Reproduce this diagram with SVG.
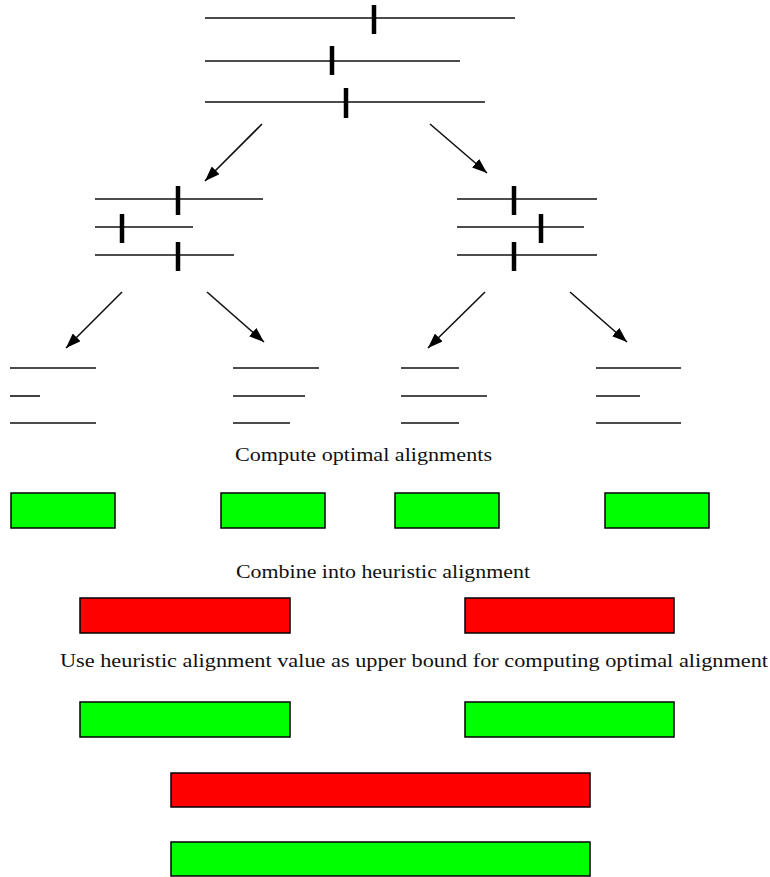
<svg xmlns="http://www.w3.org/2000/svg" width="770" height="877" viewBox="0 0 770 877">
<style>
.seq{stroke:#111;stroke-width:1.6;fill:none}
.tick{stroke:#000;stroke-width:4.5;fill:none}
.arr{stroke:#111;stroke-width:1.6;fill:none;marker-end:url(#ah)}
.g{fill:#00ff00;stroke:#000;stroke-width:1.5}
.r{fill:#ff0000;stroke:#000;stroke-width:1.5}
.lbl{font-family:"Liberation Serif","DejaVu Serif",serif;font-size:18px;fill:#111}
</style>
<defs>
<marker id="ah" viewBox="0 0 15 11" refX="15" refY="5.5" markerWidth="15" markerHeight="11" markerUnits="userSpaceOnUse" orient="auto">
<path d="M0,0 L15,5.5 L0,11 Z" fill="#000"/>
</marker>
</defs>
<rect width="770" height="877" fill="#fff"/>

<g id="root">
<line class="seq" x1="205" y1="18" x2="515" y2="18"/>
<line class="tick" x1="374" y1="5" x2="374" y2="34"/>
<line class="seq" x1="205" y1="61" x2="460" y2="61"/>
<line class="tick" x1="332" y1="46" x2="332" y2="75"/>
<line class="seq" x1="205" y1="102" x2="485" y2="102"/>
<line class="tick" x1="346" y1="88" x2="346" y2="118"/>
</g>

<g id="midLeft">
<line class="seq" x1="95" y1="199" x2="263" y2="199"/>
<line class="tick" x1="178" y1="186" x2="178" y2="215"/>
<line class="seq" x1="95" y1="227" x2="193" y2="227"/>
<line class="tick" x1="122" y1="214" x2="122" y2="243"/>
<line class="seq" x1="95" y1="255" x2="234" y2="255"/>
<line class="tick" x1="178" y1="242" x2="178" y2="271"/>
</g>

<g id="midRight">
<line class="seq" x1="457" y1="199" x2="597" y2="199"/>
<line class="tick" x1="514" y1="186" x2="514" y2="215"/>
<line class="seq" x1="457" y1="227" x2="584" y2="227"/>
<line class="tick" x1="541" y1="214" x2="541" y2="243"/>
<line class="seq" x1="457" y1="255" x2="597" y2="255"/>
<line class="tick" x1="514" y1="242" x2="514" y2="271"/>
</g>

<g id="leaf1">
<line class="seq" x1="10" y1="368" x2="96" y2="368"/>
<line class="seq" x1="10" y1="396" x2="40" y2="396"/>
<line class="seq" x1="10" y1="423" x2="96" y2="423"/>
</g>
<g id="leaf2">
<line class="seq" x1="233" y1="368" x2="319" y2="368"/>
<line class="seq" x1="233" y1="396" x2="305" y2="396"/>
<line class="seq" x1="233" y1="423" x2="290" y2="423"/>
</g>
<g id="leaf3">
<line class="seq" x1="401" y1="368" x2="459" y2="368"/>
<line class="seq" x1="401" y1="396" x2="487" y2="396"/>
<line class="seq" x1="401" y1="423" x2="459" y2="423"/>
</g>
<g id="leaf4">
<line class="seq" x1="596" y1="368" x2="681" y2="368"/>
<line class="seq" x1="596" y1="396" x2="640" y2="396"/>
<line class="seq" x1="596" y1="423" x2="681" y2="423"/>
</g>

<g id="connectors">
<line class="arr" x1="262" y1="124" x2="205" y2="181"/>
<line class="arr" x1="430" y1="124" x2="487" y2="173"/>
<line class="arr" x1="122" y1="292" x2="66" y2="348"/>
<line class="arr" x1="207" y1="292" x2="264" y2="342"/>
<line class="arr" x1="485" y1="292" x2="428" y2="348"/>
<line class="arr" x1="570" y1="292" x2="627" y2="342"/>
</g>

<g id="label1"><text class="lbl" x="235" y="461" textLength="257" lengthAdjust="spacingAndGlyphs">Compute optimal alignments</text></g>

<g id="opt1"><rect class="g" x="11" y="493" width="104" height="35"/></g>
<g id="opt2"><rect class="g" x="221" y="493" width="104" height="35"/></g>
<g id="opt3"><rect class="g" x="395" y="493" width="104" height="35"/></g>
<g id="opt4"><rect class="g" x="605" y="493" width="104" height="35"/></g>

<g id="label2"><text class="lbl" x="236" y="578" textLength="294" lengthAdjust="spacingAndGlyphs">Combine into heuristic alignment</text></g>

<g id="heur1"><rect class="r" x="80" y="598" width="210" height="35"/></g>
<g id="heur2"><rect class="r" x="465" y="598" width="209" height="35"/></g>

<g id="label3"><text class="lbl" x="60" y="667" textLength="708" lengthAdjust="spacingAndGlyphs">Use heuristic alignment value as upper bound for computing optimal alignment</text></g>

<g id="optB1"><rect class="g" x="80" y="702" width="210" height="35"/></g>
<g id="optB2"><rect class="g" x="465" y="702" width="209" height="35"/></g>

<g id="heurAll"><rect class="r" x="171" y="773" width="419" height="34"/></g>
<g id="optAll"><rect class="g" x="171" y="842" width="419" height="34"/></g>
</svg>
